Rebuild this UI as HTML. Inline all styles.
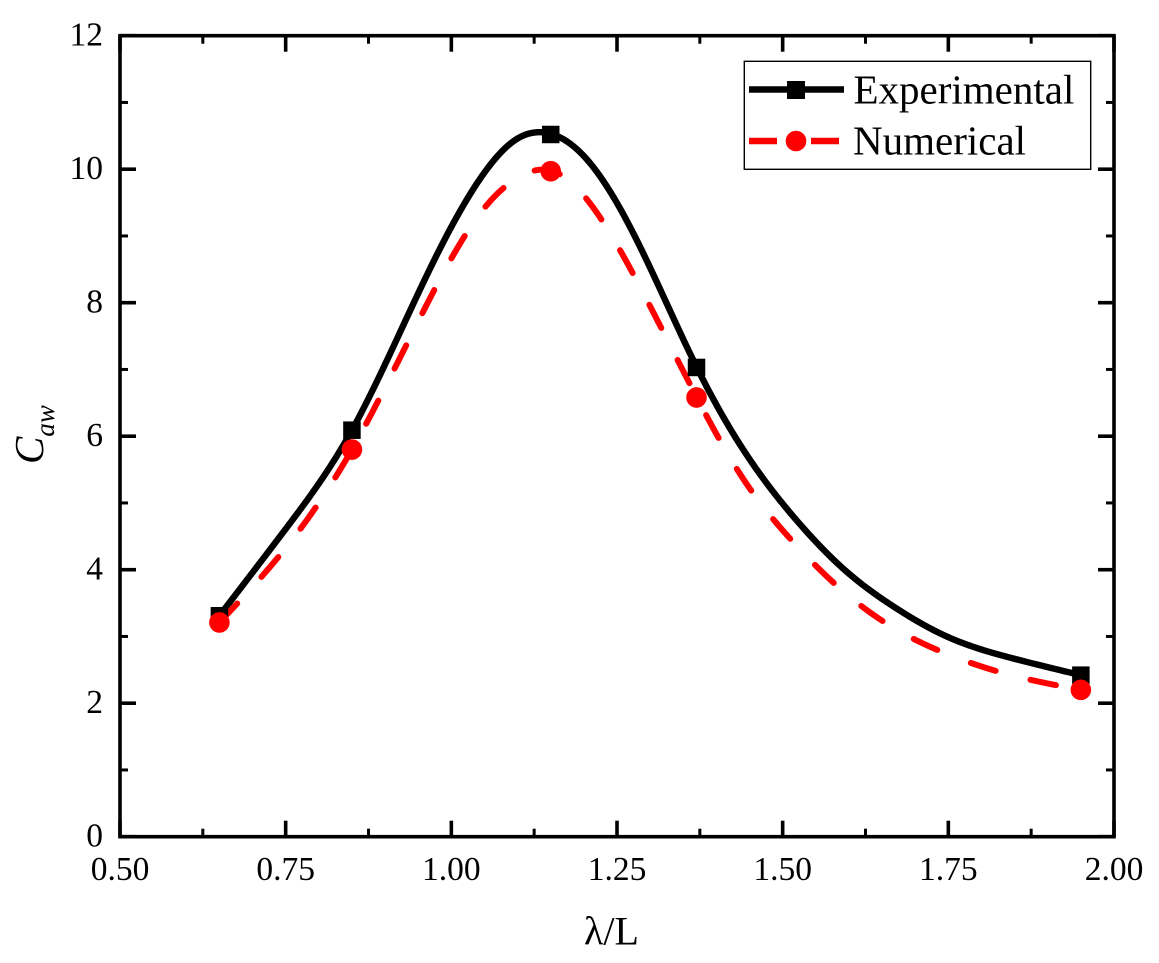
<!DOCTYPE html>
<html lang="en">
<head>
<meta charset="utf-8">
<title>Caw vs wavelength ratio</title>
<style>
html,body{margin:0;padding:0;background:#fff;}
svg{display:block;}
text{font-family:"Liberation Serif","Times New Roman",serif;fill:#000;}
</style>
</head>
<body>
<svg id="chart" xmlns="http://www.w3.org/2000/svg" width="1159" height="963" viewBox="0 0 1159 963">
  <rect x="0" y="0" width="1159" height="963" fill="#fff"/>
  <g id="ticks"></g>
  <g id="tick-labels"></g>
  <path id="curve-exp" fill="none" stroke="#000" stroke-width="6.4" stroke-linejoin="round"/>
  <path id="curve-num" fill="none" stroke="#f00" stroke-width="6" stroke-linecap="round" stroke-linejoin="round" stroke-dasharray="26 36"/>
  <g id="markers-exp"></g>
  <g id="markers-num"></g>
  <rect x="120" y="35.7" width="994" height="801" fill="none" stroke="#000" stroke-width="3.6"/>
  <text x="584" y="944.5" font-size="40">λ/L</text>
  <text transform="translate(43 464) rotate(-90)" font-size="41" font-style="italic">C<tspan font-size="27" dy="11">aw</tspan></text>
  <g>
    <rect x="744.3" y="61.3" width="346.4" height="108" fill="#fff" stroke="#000" stroke-width="1.4"/>
    <line x1="749" y1="89.5" x2="844" y2="89.5" stroke="#000" stroke-width="6.4"/>
    <rect x="787" y="81" width="18" height="18" fill="#000"/>
    <text x="853.5" y="103.5" font-size="41">Experimental</text>
    <line x1="749" y1="141" x2="777" y2="141" stroke="#f00" stroke-width="6.4"/>
    <line x1="811" y1="141" x2="839" y2="141" stroke="#f00" stroke-width="6.4"/>
    <circle cx="796" cy="141" r="10.3" fill="#f00"/>
    <text x="853" y="154.5" font-size="41">Numerical</text>
  </g>
</svg>
<script>
const xTickValues = [0.50, 0.75, 1.00, 1.25, 1.50, 1.75, 2.00];
const xTickLabels = ["0.50", "0.75", "1.00", "1.25", "1.50", "1.75", "2.00"];
const xMinorValues = [0.625, 0.875, 1.125, 1.375, 1.625, 1.875];
const yTickValues = [0, 2, 4, 6, 8, 10, 12];
const yTickLabels = ["0", "2", "4", "6", "8", "10", "12"];
const yMinorValues = [1, 3, 5, 7, 9, 11];

const markerLambda = [0.65, 0.85, 1.15, 1.37, 1.95];
const experimentalValues = [3.31, 6.09, 10.52, 7.03, 2.42];
const numericalValues = [3.21, 5.80, 9.97, 6.58, 2.20];

const experimentalCurveLambda = [0.65, 0.75, 0.85, 0.95, 1.05, 1.10, 1.14, 1.2043, 1.2797, 1.37, 1.4457, 1.521, 1.5966, 1.667, 1.7475, 1.848, 1.95];
const experimentalCurveValues = [3.31, 4.61, 6.09, 8.14, 9.95, 10.46, 10.55, 10.15, 8.94, 7.04, 5.72, 4.74, 3.97, 3.45, 3.00, 2.67, 2.42];

const numericalCurveLambda = [0.65, 0.7414, 0.85, 0.9587, 1.0533, 1.10, 1.15, 1.2092, 1.2806, 1.37, 1.4379, 1.521, 1.5875, 1.6655, 1.7525, 1.841, 1.95];
const numericalCurveValues = [3.21, 4.22, 5.80, 7.89, 9.46, 9.87, 9.98, 9.49, 8.315, 6.59, 5.40, 4.36, 3.71, 3.14, 2.72, 2.43, 2.20];

const SVG_NS = "http://www.w3.org/2000/svg";
const plot = { left: 120, right: 1114, top: 35.7, bottom: 836.7 };
const xDomain = [0.5, 2.0];
const yDomain = [0, 12];

function xScale(v) {
  return plot.left + (v - xDomain[0]) / (xDomain[1] - xDomain[0]) * (plot.right - plot.left);
}
function yScale(v) {
  return plot.bottom - (v - yDomain[0]) / (yDomain[1] - yDomain[0]) * (plot.bottom - plot.top);
}
function make(tag, attrs, parent) {
  const el = document.createElementNS(SVG_NS, tag);
  Object.keys(attrs).forEach(function (k) { el.setAttribute(k, attrs[k]); });
  parent.appendChild(el);
  return el;
}
function splinePath(xs, ys) {
  const n = xs.length;
  const second = new Array(n).fill(0);
  const u = new Array(n).fill(0);
  for (let i = 1; i < n - 1; i++) {
    const sig = (xs[i] - xs[i - 1]) / (xs[i + 1] - xs[i - 1]);
    const p = sig * second[i - 1] + 2;
    second[i] = (sig - 1) / p;
    const d = (ys[i + 1] - ys[i]) / (xs[i + 1] - xs[i]) - (ys[i] - ys[i - 1]) / (xs[i] - xs[i - 1]);
    u[i] = (6 * d / (xs[i + 1] - xs[i - 1]) - sig * u[i - 1]) / p;
  }
  for (let k = n - 2; k >= 0; k--) {
    second[k] = second[k] * second[k + 1] + u[k];
  }
  let d = "";
  for (let i = 0; i < n - 1; i++) {
    const h = xs[i + 1] - xs[i];
    const steps = Math.max(4, Math.ceil(xScale(xs[i + 1]) - xScale(xs[i])));
    for (let s = (i === 0 ? 0 : 1); s <= steps; s++) {
      const t = s / steps;
      const a = 1 - t;
      const y = a * ys[i] + t * ys[i + 1] + ((a * a * a - a) * second[i] + (t * t * t - t) * second[i + 1]) * h * h / 6;
      const x = xs[i] + t * h;
      d += (d ? "L" : "M") + xScale(x).toFixed(2) + " " + yScale(y).toFixed(2);
    }
  }
  return d;
}

const ticksGroup = document.getElementById("ticks");
const labelsGroup = document.getElementById("tick-labels");

xTickValues.forEach(function (v, i) {
  const x = xScale(v);
  const bottomTick = make("line", { x1: x, x2: x, y1: plot.bottom, y2: plot.bottom - 16, stroke: "#000", "stroke-width": 3.6 }, ticksGroup);
  
  
  const topTick = make("line", { x1: x, x2: x, y1: plot.top, y2: plot.top + 16, stroke: "#000", "stroke-width": 3.6 }, ticksGroup);
  
  
  const label = make("text", { x: x, y: 880, "font-size": 33.5, "text-anchor": "middle" }, labelsGroup);
  label.textContent = xTickLabels[i];
  
  
});
xMinorValues.forEach(function (v) {
  const x = xScale(v);
  const bottomTick = make("line", { x1: x, x2: x, y1: plot.bottom, y2: plot.bottom - 8, stroke: "#000", "stroke-width": 3 }, ticksGroup);
  
  
  const topTick = make("line", { x1: x, x2: x, y1: plot.top, y2: plot.top + 8, stroke: "#000", "stroke-width": 3 }, ticksGroup);
  
  
});
yTickValues.forEach(function (v, i) {
  const y = yScale(v);
  const leftTick = make("line", { x1: plot.left, x2: plot.left + 16, y1: y, y2: y, stroke: "#000", "stroke-width": 3.6 }, ticksGroup);
  
  
  const rightTick = make("line", { x1: plot.right, x2: plot.right - 16, y1: y, y2: y, stroke: "#000", "stroke-width": 3.6 }, ticksGroup);
  
  
  const label = make("text", { x: 103, y: y + 10, "font-size": 33.5, "text-anchor": "end" }, labelsGroup);
  label.textContent = yTickLabels[i];
  
  
});
yMinorValues.forEach(function (v) {
  const y = yScale(v);
  const leftTick = make("line", { x1: plot.left, x2: plot.left + 8, y1: y, y2: y, stroke: "#000", "stroke-width": 3 }, ticksGroup);
  
  
  const rightTick = make("line", { x1: plot.right, x2: plot.right - 8, y1: y, y2: y, stroke: "#000", "stroke-width": 3 }, ticksGroup);
  
  
});

document.getElementById("curve-exp").setAttribute("d", splinePath(experimentalCurveLambda, experimentalCurveValues));
document.getElementById("curve-num").setAttribute("d", splinePath(numericalCurveLambda, numericalCurveValues));

const expMarkersGroup = document.getElementById("markers-exp");
const numMarkersGroup = document.getElementById("markers-num");
const squareSize = 17.5;
const circleRadius = 10.3;
markerLambda.forEach(function (v, i) {
  const square = make("rect", {
    x: xScale(v) - squareSize / 2,
    y: yScale(experimentalValues[i]) - squareSize / 2,
    width: squareSize,
    height: squareSize,
    fill: "#000"
  }, expMarkersGroup);
  
  
  const circle = make("circle", {
    cx: xScale(v),
    cy: yScale(numericalValues[i]),
    r: circleRadius,
    fill: "#f00"
  }, numMarkersGroup);
  
  
});
</script>
</body>
</html>
